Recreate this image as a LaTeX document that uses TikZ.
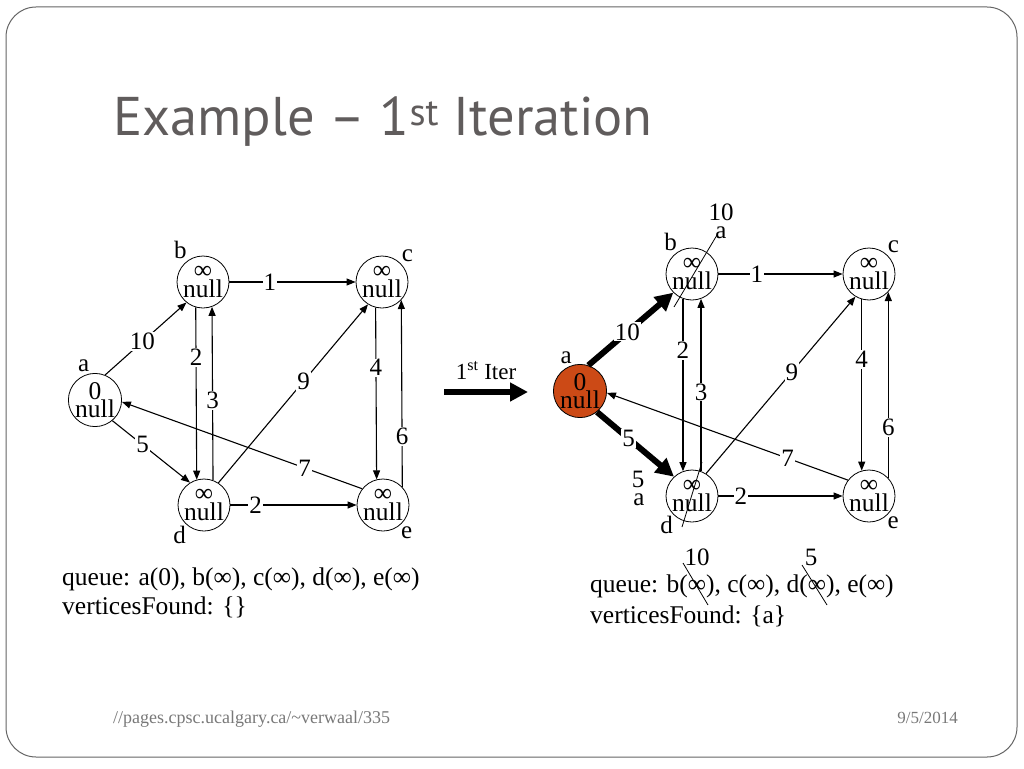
\documentclass[tikz,border=0pt]{standalone}
\usepackage{fontspec}
\setmainfont{Liberation Serif}
\newfontfamily\titlefont{PT Sans}
\usetikzlibrary{arrows.meta}
\definecolor{slidegray}{RGB}{96,92,92}
\definecolor{framegray}{RGB}{100,100,100}
\definecolor{footgray}{RGB}{120,120,120}
\definecolor{visited}{RGB}{204,74,22}

\begin{document}
\begin{tikzpicture}[x=1pt,y=-1pt,
  vertex/.style={circle,draw,line width=0.8pt,minimum size=52pt,inner sep=0pt,align=center,font=\fontsize{25.5}{18.5}\selectfont},
  edge/.style={line width=1.1pt,-{Triangle[length=9pt,width=7pt]}},
  bigedge/.style={line width=6pt,-{Triangle[length=18pt,width=18pt]}},
  wt/.style={fill=white,inner sep=1pt,font=\fontsize{25}{25}\selectfont},
  lbl/.style={inner sep=1pt,font=\fontsize{25}{25}\selectfont},
  txt/.style={inner sep=0pt,align=left,font=\fontsize{25.5}{29}\selectfont},
  strike/.style={line width=0.8pt}]
  \useasboundingbox (0,0) rectangle (1024,768);

  %Slide frame and title
  \draw[framegray,line width=1pt,rounded corners=30pt] (6,7) rectangle (1017,757);
  \node[anchor=base west,inner sep=0pt,text=slidegray,font=\titlefont\fontsize{54.5}{54.5}\selectfont] (title) at (113,135) {Example – 1\textsuperscript{st} Iteration};

  %Graph before the iteration
  \node[vertex,label={[lbl]100:a}] (a1) at (95,400) {0\\null};
  \node[vertex,label={[lbl]125:b}] (b1) at (203,282) {∞\\null};
  \node[vertex,label={[lbl]45:c}]  (c1) at (382,282) {∞\\null};
  \node[vertex,label={[lbl]230:d}] (d1) at (204,505) {∞\\null};
  \node[vertex,label={[lbl]310:e}] (e1) at (383,505) {∞\\null};

  \draw[edge] (a1.68) -- node[wt,pos=0.46]{10} (b1.231);
  \draw[edge] (a1.310) -- node[wt,pos=0.39]{5} (d1.122);
  \draw[edge] (b1) -- node[wt,pos=0.32]{1} (c1);
  \draw[edge] (b1.254) -- node[wt,pos=0.29]{2} (d1.106);
  \draw[edge] (d1.70) -- node[wt,pos=0.46]{3} (b1.290);
  \draw[edge] (d1.57) -- node[wt,pos=0.57]{9} (c1.238);
  \draw[edge] (c1.256) -- node[wt,pos=0.35]{4} (e1.104);
  \draw[edge] (e1.43) -- node[wt,pos=0.27]{6} (c1.317);
  \draw[edge] (e1.142) -- node[wt,pos=0.24]{7} (a1.356);
  \draw[edge] (d1) -- node[wt,pos=0.2]{2} (e1);

  \node[txt,anchor=north west] (queue1) at (62,568) {queue: a(0), b(∞), c(∞), d(∞), e(∞)\\verticesFound: \{\}};

  %Iteration arrow
  \coordinate (iterA) at (444,392);
  \coordinate (iterB) at (528,392);
  \draw[bigedge] (iterA) -- node[lbl,above=8pt,font=\fontsize{23}{23}\selectfont]{1\textsuperscript{st} Iter} (iterB);

  %Graph after the iteration
  \node[vertex,fill=visited,label={[lbl]105:a}] (a2) at (580,391) {0\\null};
  \node[vertex,label={[lbl]122:b}] (b2) at (692,274) {∞\\null};
  \node[vertex,label={[lbl]48:c}]  (c2) at (869,274) {∞\\null};
  \node[vertex,label={[lbl]227:d}] (d2) at (692,496) {∞\\null};
  \node[vertex,label={[lbl]311:e}] (e2) at (869,496) {∞\\null};

  \draw[bigedge] (a2.72) -- node[wt,pos=0.46]{10} (b2.225);
  \draw[bigedge] (a2.309) -- node[wt,pos=0.41]{5} (d2.133);
  \draw[edge] (b2) -- node[wt,pos=0.31]{1} (c2);
  \draw[edge] (b2.250) -- node[wt,pos=0.30]{2} (d2.110);
  \draw[edge] (d2.70) -- node[wt,pos=0.46]{3} (b2.290);
  \draw[edge] (d2.58) -- node[wt,pos=0.575]{9} (c2.239);
  \draw[edge] (c2.254) -- node[wt,pos=0.35]{4} (e2.106);
  \draw[edge] (e2.43) -- node[wt,pos=0.27]{6} (c2.317);
  \draw[edge] (e2.143) -- node[wt,pos=0.25]{7} (a2.356);
  \draw[edge] (d2) -- node[wt,pos=0.18]{2} (e2);

  %Updated distances at b and d
  \draw[strike] (674,307) -- (717,235);
  \node[lbl] (bdist) at (721,212) {10};
  \node[lbl] (bprev) at (721,233) {a};
  \draw[strike] (682,527) -- (702,462);
  \node[lbl] (ddist) at (638,479) {5};
  \node[lbl] (dprev) at (639,500) {a};

  \node[txt,anchor=north west,font=\fontsize{25.5}{31}\selectfont] (queue2) at (590,575) {queue: b(∞), c(∞), d(∞), e(∞)\\verticesFound: \{a\}};
  \draw[strike] (683,563) -- (708,605);
  \node[lbl] (qbdist) at (697,557) {10};
  \draw[strike] (802,565) -- (827,605);
  \node[lbl] (qddist) at (811,557) {5};

  %Footer
  \node[anchor=base west,inner sep=0pt,text=footgray,font=\fontsize{18}{18}\selectfont] (url) at (113,723) {//pages.cpsc.ucalgary.ca/\textasciitilde verwaal/335};
  \node[anchor=base east,inner sep=0pt,text=footgray,font=\fontsize{17}{17}\selectfont] (date) at (958,723) {9/5/2014};
\end{tikzpicture}
\end{document}
